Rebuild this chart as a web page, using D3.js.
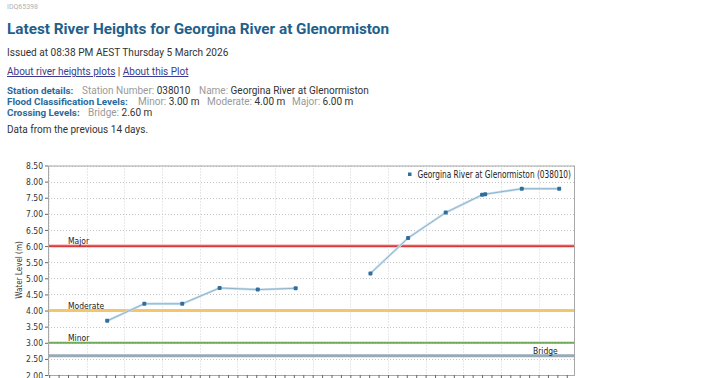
<!DOCTYPE html>
<html>
<head>
<meta charset="utf-8">
<script src="https://cdn.jsdelivr.net/npm/d3@7"></script>
<style>
  body { margin: 0; background: #fff; }
  svg text { font-family: Roboto, "Liberation Sans", sans-serif; }
  .cond { font-family: "DejaVu Sans", sans-serif; }
</style>
</head>
<body>
<div id="chart"></div>
<script>
// daily readings (null = missing)
const times = ["2026-02-21T13:00", "2026-02-22T12:40", "2026-02-23T12:50", "2026-02-24T12:40",
    "2026-02-25T13:00", "2026-02-26T13:10", "2026-02-27T13:00", "2026-02-28T12:50",
    "2026-03-01T12:50", "2026-03-02T12:50", "2026-03-03T12:00", "2026-03-03T14:00",
    "2026-03-04T13:20", "2026-03-05T13:10"]
const levels = [3.68, 4.21, 4.21, 4.70, 4.65, 4.69, null, 5.15, 6.25, 7.04, 7.59, 7.61, 7.78, 7.78]

const levelNames = ["Major", "Moderate", "Minor", "Bridge"]
const levelValues = [6.00, 4.00, 3.00, 2.60]
const levelColors = ["#d83a3c", "#f3c56c", "#6fab58", "#97aab6"]

const yTicks = [2.0, 2.5, 3.0, 3.5, 4.0, 4.5, 5.0, 5.5, 6.0, 6.5, 7.0, 7.5, 8.0, 8.5]
const seriesName = "Georgina River at Glenormiston (038010)"

const parse = d3.utcParse("%Y-%m-%dT%H:%M")
const data = times.map((t, i) => ({ date: parse(t), value: levels[i] }))

const W = 720, H = 378
const svg = d3.select("#chart").append("svg")
    .attr("width", W).attr("height", H)

/* header text */
svg.append("text").attr("x", 7).attr("y", 9).attr("font-size", 7).attr("fill", "#b0b0b0").text("IDQ65398")
svg.append("text").attr("x", 7).attr("y", 33.5).attr("font-size", 15.3).attr("font-weight", "bold")
    .attr("fill", "#225f8c").text("Latest River Heights for Georgina River at Glenormiston")
svg.append("text").attr("x", 7).attr("y", 56).attr("font-size", 10.1).attr("fill", "#333")
    .text("Issued at 08:38 PM AEST Thursday 5 March 2026")

const links = svg.append("text").attr("x", 7).attr("y", 75).attr("font-size", 10).attr("fill", "#3b3b8f")
links.append("tspan").attr("text-decoration", "underline").text("About river heights plots")
links.append("tspan").attr("fill", "#333").text(" | ")
links.append("tspan").attr("text-decoration", "underline").text("About this Plot")

function infoLine(y, head, groups) {
    svg.append("text").attr("x", 7).attr("y", y).attr("font-size", 9.8)
        .attr("font-weight", "bold").attr("fill", "#2a6a9a").text(head)
    groups.forEach(gr => {
        const t = svg.append("text").attr("x", gr[0]).attr("y", y).attr("font-size", 10)
        t.append("tspan").attr("fill", "#9a9a9a").text(gr[1] + " ")
        t.append("tspan").attr("fill", "#333").text(gr[2])
    })
}
infoLine(93.5, "Station details:", [[82, "Station Number:", "038010"], [199, "Name:", "Georgina River at Glenormiston"]])
infoLine(104.5, "Flood Classification Levels:", [[138, "Minor:", "3.00 m"], [207, "Moderate:", "4.00 m"], [292, "Major:", "6.00 m"]])
infoLine(115.5, "Crossing Levels:", [[88, "Bridge:", "2.60 m"]])
svg.append("text").attr("x", 7).attr("y", 133).attr("font-size", 10).attr("fill", "#333")
    .text("Data from the previous 14 days.")

/* plot */
const pLeft = 48, pRight = 575, pTop = 165.5, pBottom = 375
const x = d3.scaleUtc()
    .domain([parse("2026-02-19T23:15"), parse("2026-03-05T23:15")])
    .range([pLeft, pRight])
const y = d3.scaleLinear().domain([2, 8.5]).range([pBottom, pTop])

const g = svg.append("g")

// grid
g.selectAll(".hgrid").data(yTicks).enter().append("line")
    .attr("x1", pLeft).attr("x2", pRight)
    .attr("y1", d => Math.round(y(d)) + 0.5).attr("y2", d => Math.round(y(d)) + 0.5)
    .attr("stroke", "#c4c4c4").attr("stroke-dasharray", "1,2")
g.selectAll(".vgrid").data(x.ticks(d3.utcDay.every(1))).enter().append("line")
    .attr("x1", d => Math.round(x(d)) + 0.5).attr("x2", d => Math.round(x(d)) + 0.5)
    .attr("y1", pTop).attr("y2", pBottom)
    .attr("stroke", "#d0d0d0").attr("stroke-dasharray", "1,2")

// level lines
levelValues.forEach((v, i) => {
    if (levelNames[i] == "Major") {
        g.append("line").attr("x1", pLeft).attr("x2", pRight).attr("y1", y(v)).attr("y2", y(v))
            .attr("stroke", "#f6cccc").attr("stroke-width", 4)
    }
    g.append("line").attr("x1", pLeft).attr("x2", pRight).attr("y1", y(v)).attr("y2", y(v))
        .attr("stroke", levelColors[i])
        .attr("stroke-width", levelNames[i] == "Major" ? 1.6 : levelNames[i] == "Minor" ? 2 : 3)
})
levelNames.forEach((n, i) => {
    g.append("text").attr("class", "cond")
        .attr("x", n == "Bridge" ? 533 : 68)
        .attr("y", y(levelValues[i]) - (n == "Major" ? 2 : 1.5))
        .attr("font-size", 9.5).attr("fill", "#222")
        .text(n)
})

// series
const line = d3.line()
    .defined(d => d.value != null)
    .x(d => x(d.date)).y(d => y(d.value))
g.append("path").datum(data).attr("d", line)
    .attr("fill", "none").attr("stroke", "#c6dfee").attr("stroke-width", 2.4)
g.append("path").datum(data).attr("d", line)
    .attr("fill", "none").attr("stroke", "#7aa0bb").attr("stroke-width", 0.7)
g.selectAll(".pt").data(data.filter(d => d.value != null)).enter().append("rect")
    .attr("x", d => x(d.date) - 2).attr("y", d => y(d.value) - 2)
    .attr("width", 4).attr("height", 4).attr("rx", 1)
    .attr("fill", "#2f6e9e")

// frame and axes
g.append("rect").attr("x", pLeft + 0.5).attr("y", pTop + 0.5)
    .attr("width", pRight - pLeft - 1).attr("height", pBottom - pTop)
    .attr("fill", "none").attr("stroke", "#a8a8a8")

const yAxis = svg.append("g").attr("transform", `translate(${pLeft},0)`)
    .call(d3.axisLeft(y).tickValues(yTicks).tickFormat(d3.format(".2f")).tickSize(3).tickPadding(2))
yAxis.select(".domain").remove()
yAxis.selectAll("line").attr("stroke", "#666")
yAxis.selectAll("text").attr("class", "cond").attr("font-size", 9.5).attr("fill", "#333")

const xAxis = svg.append("g").attr("transform", `translate(0,${pBottom})`)
    .call(d3.axisBottom(x).ticks(d3.utcHour.every(6)).tickSize(3).tickFormat(""))
xAxis.select(".domain").remove()
xAxis.selectAll("line").attr("stroke", "#666")

svg.append("text").attr("class", "cond")
    .attr("transform", "translate(22,270) rotate(-90)")
    .attr("text-anchor", "middle").attr("font-size", 9).attr("fill", "#333")
    .text("Water Level (m)")

// legend
svg.append("rect").attr("x", 408).attr("y", 172.5).attr("width", 3.5).attr("height", 3.5).attr("fill", "#2f6e9e")
svg.append("text").attr("class", "cond legend").attr("x", 417.5).attr("y", 178)
    .attr("font-size", 10).attr("fill", "#222").text(seriesName)

// the chart font is a condensed face: squeeze DejaVu horizontally
svg.selectAll("text.cond").each(function () {
    const w = this.getComputedTextLength()
    const k = this.classList.contains("legend") ? 0.74 : 0.8
    d3.select(this).attr("textLength", w * k).attr("lengthAdjust", "spacingAndGlyphs")
})
</script>
</body>
</html>
